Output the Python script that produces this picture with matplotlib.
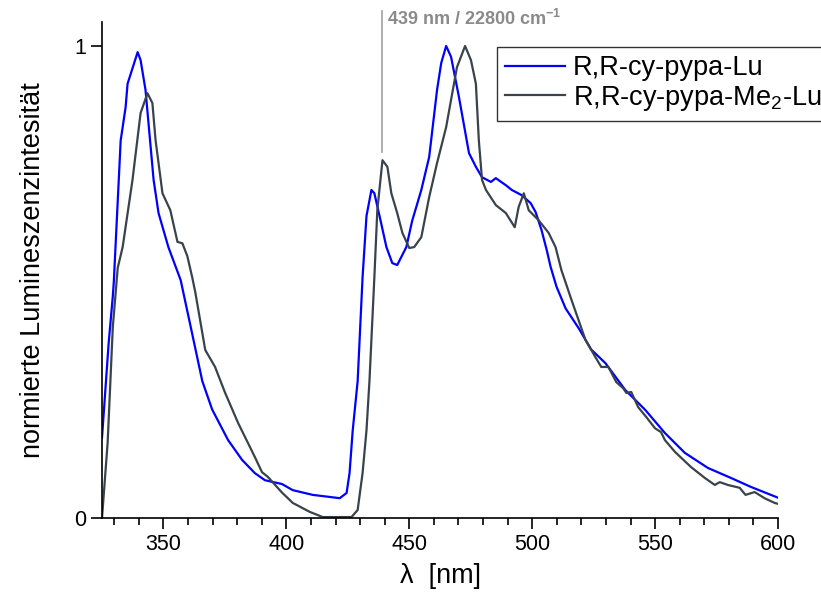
import matplotlib
matplotlib.use("Agg")
import matplotlib.pyplot as plt
from matplotlib.ticker import MultipleLocator

plt.rcParams['font.family'] = ['Liberation Sans', 'DejaVu Sans']
plt.rcParams['mathtext.default'] = 'regular'

# Emission spectrum of R,R-cy-pypa-Lu (wavelength in nm, normalised intensity)
wl_lu = [325.0, 327.7, 329.4, 329.8, 332.6, 334.6, 335.4, 339.5, 340.7, 342.7,
         346.0, 348.0, 352.0, 357.0, 361.7, 365.8, 369.8, 376.3, 382.0, 387.2,
         391.3, 398.2, 402.6, 410.7, 421.7, 424.5, 425.7, 427.0, 429.0, 431.0,
         432.6, 434.6, 435.8, 437.9, 440.7, 443.1, 445.1, 448.8, 451.2, 454.9,
         458.1, 461.3, 463.0, 465.0, 467.0, 470.2, 474.3, 477.1, 479.6, 483.2,
         485.2, 489.3, 491.7, 495.7, 499.4, 501.4, 503.8, 505.9, 507.5, 509.9,
         513.6, 518.8, 524.0, 529.8, 537.9, 546.0, 554.0, 562.1, 571.5, 580.8,
         588.9, 600.0]
int_lu = [0.17, 0.37, 0.47, 0.50, 0.80, 0.87, 0.92, 0.987, 0.97, 0.907,
          0.716, 0.646, 0.574, 0.504, 0.39, 0.29, 0.23, 0.165, 0.123, 0.095,
          0.08, 0.072, 0.059, 0.049, 0.042, 0.053, 0.095, 0.186, 0.29, 0.51,
          0.64, 0.695, 0.688, 0.64, 0.574, 0.54, 0.536, 0.574, 0.63, 0.695,
          0.765, 0.907, 0.964, 1.0, 0.977, 0.892, 0.773, 0.744, 0.722, 0.712,
          0.72, 0.705, 0.695, 0.684, 0.667, 0.648, 0.61, 0.568, 0.532, 0.49,
          0.444, 0.403, 0.357, 0.328, 0.271, 0.229, 0.18, 0.138, 0.106, 0.085,
          0.066, 0.043]

# Emission spectrum of R,R-cy-pypa-Me2-Lu
wl_me2 = [325.0, 327.3, 329.4, 331.4, 333.4, 337.4, 340.7, 343.5, 345.5, 346.8,
          349.6, 352.8, 355.7, 357.7, 359.7, 361.7, 363.0, 367.0, 371.0, 375.1,
          380.4, 387.2, 390.1, 392.5, 398.2, 402.6, 409.5, 414.8, 426.5, 429.0,
          431.0, 432.6, 433.8, 435.8, 437.0, 439.1, 441.1, 442.7, 445.1, 447.2,
          450.0, 452.0, 454.9, 458.1, 461.3, 465.0, 467.0, 469.4, 472.7, 475.1,
          477.1, 478.3, 479.6, 481.2, 485.2, 489.3, 492.9, 494.5, 496.6, 498.6,
          502.6, 506.7, 509.5, 511.9, 516.0, 521.7, 525.7, 528.1, 531.0, 534.2,
          537.0, 538.3, 540.3, 543.1, 546.4, 550.0, 552.4, 554.0, 558.1, 564.6,
          570.2, 574.3, 576.3, 579.6, 584.4, 586.8, 590.5, 594.5, 598.6, 600.0]
int_me2 = [0.0, 0.16, 0.405, 0.53, 0.574, 0.716, 0.858, 0.90, 0.879, 0.80,
           0.688, 0.652, 0.585, 0.582, 0.555, 0.51, 0.477, 0.356, 0.32, 0.265,
           0.201, 0.129, 0.097, 0.087, 0.054, 0.032, 0.013, 0.002, 0.002, 0.017,
           0.095, 0.186, 0.29, 0.51, 0.652, 0.758, 0.744, 0.688, 0.646, 0.604,
           0.572, 0.574, 0.595, 0.68, 0.752, 0.828, 0.886, 0.955, 1.0, 0.97,
           0.92, 0.80, 0.716, 0.695, 0.663, 0.646, 0.616, 0.659, 0.688, 0.652,
           0.631, 0.604, 0.574, 0.525, 0.462, 0.377, 0.341, 0.32, 0.32, 0.288,
           0.275, 0.265, 0.267, 0.235, 0.214, 0.19, 0.182, 0.165, 0.14, 0.108,
           0.085, 0.07, 0.076, 0.07, 0.064, 0.049, 0.055, 0.042, 0.032, 0.030]

series_labels = ["R,R-cy-pypa-Lu", "R,R-cy-pypa-Me$_2$-Lu"]
marker_wl = 439
marker_text = "439 nm / 22800 cm$^{-1}$"

fig = plt.figure(figsize=(8.21, 6.10), dpi=100)
# y range chosen so that 0 -> 518 px and 1 -> 46 px
ax = fig.add_axes([102 / 821, 92 / 610, 676 / 821, (1.05 * 472) / 610])

ax.plot(wl_lu, int_lu, color="#0000FF", lw=1.6, label=series_labels[0])
ax.plot(wl_me2, int_me2, color="#38434B", lw=1.6, label=series_labels[1])

# vertical marker at the 439 nm shoulder
ax.plot([marker_wl, marker_wl], [0.775, 1.075], color="#A0A0A0", lw=1.2, clip_on=False)
ax.text(marker_wl + 2.0, 1.057, marker_text, color="#8A8A8A", fontsize=13,
        fontweight="bold", ha="left", va="center", clip_on=False)

ax.set_xlim(325, 600)
ax.set_ylim(0, 1.05)
ax.xaxis.set_major_locator(MultipleLocator(50))
ax.xaxis.set_minor_locator(MultipleLocator(10))
ax.set_yticks([0, 1])
ax.set_yticklabels(["0", "1"])

for side in ("top", "right"):
    ax.spines[side].set_visible(False)
for side in ("left", "bottom"):
    ax.spines[side].set_linewidth(1.2)
ax.tick_params(axis="both", which="major", direction="out", length=8, width=1.2,
               labelsize=15.5)
ax.tick_params(axis="x", which="minor", direction="out", length=5, width=1.2)

ax.set_xlabel("λ  [nm]", fontsize=19.5, labelpad=6)
ax.set_ylabel("normierte Lumineszenzintesität", fontsize=19.5, labelpad=20)

leg = ax.legend(loc="upper left", bbox_to_anchor=(497 / 821, 1 - 47 / 610),
                bbox_transform=fig.transFigure, fontsize=19.5, frameon=True,
                fancybox=False, handlelength=2.2, handletextpad=0.3,
                borderpad=0.3, labelspacing=0.1, borderaxespad=0)
leg.get_frame().set_edgecolor("black")
leg.get_frame().set_linewidth(1.0)

fig.savefig("out.png", dpi=100)
